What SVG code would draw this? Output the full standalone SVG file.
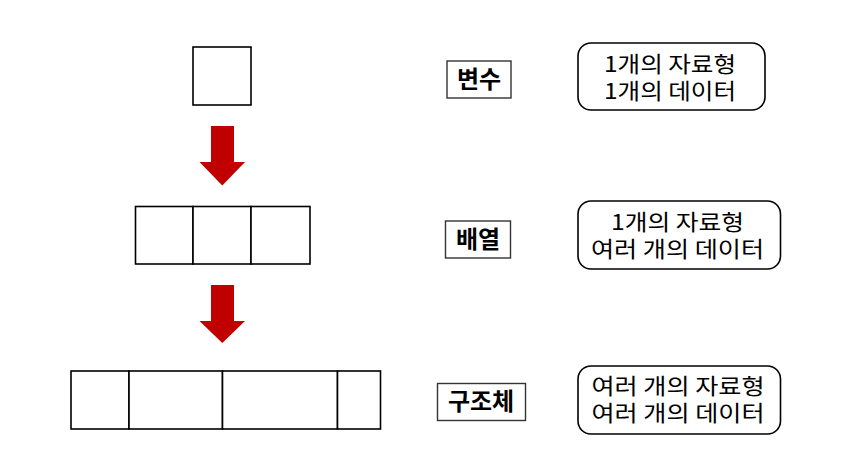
<svg xmlns="http://www.w3.org/2000/svg" width="843" height="471" viewBox="0 0 843 471">
<style>
.cell{fill:#fff;stroke:#000;stroke-width:1.6}
.lbl{fill:#fff;stroke:#333;stroke-width:1.4}
.info{fill:#fff;stroke:#000;stroke-width:1.6}
.arrow{fill:#C00000}
text{font-family:"Malgun Gothic","Noto Sans CJK KR",sans-serif;fill:#000;text-anchor:middle}
.b{font-size:24px;font-weight:bold}
.t{font-size:22px}
</style>
<rect width="843" height="471" fill="#fff"/>
<g id="variable">
<rect class="cell" x="193" y="47" width="58" height="58"/>
</g>
<g id="array">
<rect class="cell" x="135.5" y="206.5" width="57.5" height="57.5"/>
<rect class="cell" x="193" y="206.5" width="58" height="57.5"/>
<rect class="cell" x="251" y="206.5" width="59" height="57.5"/>
</g>
<g id="struct">
<rect class="cell" x="71" y="371" width="58" height="58"/>
<rect class="cell" x="129" y="371" width="93.5" height="58"/>
<rect class="cell" x="222.5" y="371" width="115" height="58"/>
<rect class="cell" x="337.5" y="371" width="43" height="58"/>
</g>
<g id="connectors">
<polygon class="arrow" points="211,126 234,126 234,162 245,162 222.3,185.5 199.5,162 211,162"/>
<polygon class="arrow" points="211,285 234,285 234,321 245,321 222.3,343 199.5,321 211,321"/>
</g>
<g id="label-variable">
<rect class="lbl" x="447" y="61" width="64" height="37"/>
<text class="b" x="479" y="88">변수</text>
</g>
<g id="label-array">
<rect class="lbl" x="445.5" y="221" width="65" height="37"/>
<text class="b" x="478" y="247.5">배열</text>
</g>
<g id="label-struct">
<rect class="lbl" x="437.5" y="383.5" width="88" height="37"/>
<text class="b" x="481" y="409.5">구조체</text>
</g>
<g id="info-variable">
<rect class="info" x="578" y="43" width="187" height="67" rx="13"/>
<text class="t"><tspan x="670" y="71.5" textLength="132" lengthAdjust="spacingAndGlyphs">1개의 자료형</tspan><tspan x="670" y="98.5" textLength="132" lengthAdjust="spacingAndGlyphs">1개의 데이터</tspan></text>
</g>
<g id="info-array">
<rect class="info" x="578" y="201" width="202.5" height="68" rx="13"/>
<text class="t"><tspan x="677.5" y="230" textLength="133" lengthAdjust="spacingAndGlyphs">1개의 자료형</tspan><tspan x="677.5" y="256.5" textLength="173" lengthAdjust="spacingAndGlyphs">여러 개의 데이터</tspan></text>
</g>
<g id="info-struct">
<rect class="info" x="578" y="366" width="202.5" height="68" rx="13"/>
<text class="t"><tspan x="678" y="394" textLength="173" lengthAdjust="spacingAndGlyphs">여러 개의 자료형</tspan><tspan x="678" y="420.5" textLength="173" lengthAdjust="spacingAndGlyphs">여러 개의 데이터</tspan></text>
</g>
</svg>
